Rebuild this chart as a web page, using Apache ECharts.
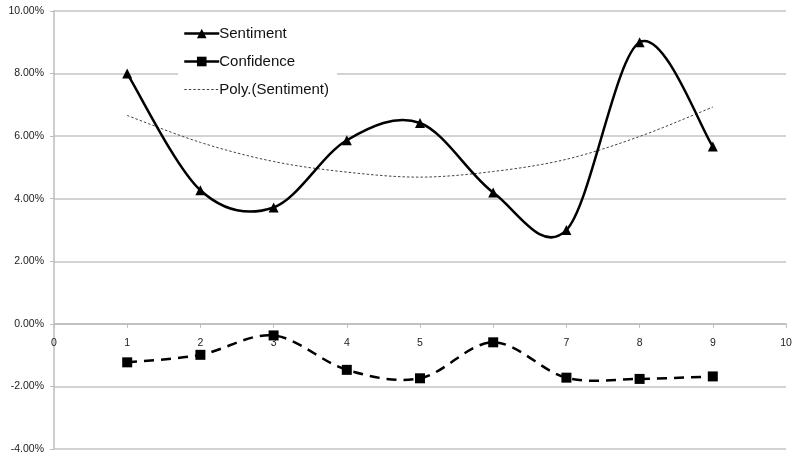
<!DOCTYPE html>
<html>
<head>
<meta charset="utf-8">
<script src="https://cdn.jsdelivr.net/npm/echarts@6/dist/echarts.min.js"></script>
<style>
  html, body { margin: 0; padding: 0; background: #fff; }
  #chart { width: 792px; height: 459px; }
</style>
</head>
<body>
<div id="chart"></div>
<script>
// Period index on the horizontal axis
const periods = [1, 2, 3, 4, 5, 6, 7, 8, 9];
// Series values, in percent
const sentiment = [8.0, 4.27, 3.72, 5.87, 6.42, 4.2, 3.0, 9.0, 5.67];
const confidence = [-1.23, -0.99, -0.37, -1.47, -1.74, -0.59, -1.72, -1.76, -1.68];
// Second-order polynomial trend of Sentiment, sampled at each period
const sentimentTrend = [6.66, 5.8, 5.19, 4.85, 4.69, 4.87, 5.26, 5.99, 6.93];

const seriesNames = ['Sentiment', 'Confidence', 'Poly.(Sentiment)'];

// Value axis range (percent)
const yMin = -4, yMax = 10, yStep = 2;

const pair = (vals) => periods.map((p, i) => [p, vals[i]]);

const chart = echarts.init(document.getElementById('chart'), null, { renderer: 'canvas' });

const gridBox = { left: 54, right: 6, top: 11, bottom: 10 };
const gridHeight = 459 - gridBox.top - gridBox.bottom;
// Shift the horizontal axis up so it sits on the 0% line
const zeroOffset = -gridHeight * (0 - yMin) / (yMax - yMin);

const labelFont = { fontFamily: 'Liberation Sans, Arial, sans-serif', fontSize: 10.5, color: '#222' };

// Smooth spline through the data points (Catmull-Rom style Bezier segments),
// positioned with the chart's own coordinate conversion.
function splineRenderer(vals, style) {
  return function (params, api) {
    const pts = periods.map((p, i) => api.coord([p, vals[i]]));
    const n = pts.length;
    let d = 'M' + pts[0][0] + ' ' + pts[0][1];
    for (let i = 0; i < n - 1; i++) {
      const p0 = pts[Math.max(i - 1, 0)];
      const p1 = pts[i];
      const p2 = pts[i + 1];
      const p3 = pts[Math.min(i + 2, n - 1)];
      const c1x = p1[0] + (p2[0] - p0[0]) / 6;
      const c1y = p1[1] + (p2[1] - p0[1]) / 6;
      const c2x = p2[0] - (p3[0] - p1[0]) / 6;
      const c2y = p2[1] - (p3[1] - p1[1]) / 6;
      d += ' C' + c1x + ' ' + c1y + ' ' + c2x + ' ' + c2y + ' ' + p2[0] + ' ' + p2[1];
    }
    return {
      type: 'path',
      shape: { pathData: d },
      style: Object.assign({ fill: null }, style)
    };
  };
}

function curveSeries(vals, style, z) {
  return {
    type: 'custom',
    coordinateSystem: 'cartesian2d',
    data: [[periods[0], vals[0]]],
    renderItem: splineRenderer(vals, style),
    silent: true,
    z: z
  };
}

chart.setOption({
  animation: false,
  backgroundColor: '#ffffff',
  grid: Object.assign({ containLabel: false, outerBoundsMode: 'none' }, gridBox),
  legend: {
    orient: 'vertical',
    left: 178,
    top: 22,
    padding: [4, 8, 6, 5],
    backgroundColor: '#ffffff',
    itemWidth: 35,
    itemHeight: 12,
    itemGap: 13,
    data: [
      { name: seriesNames[0], lineStyle: { opacity: 1, width: 2.5 } },
      { name: seriesNames[1], lineStyle: { opacity: 1, width: 2.5, type: 'solid' } },
      { name: seriesNames[2], itemStyle: { opacity: 0 }, lineStyle: { opacity: 1, width: 1 } }
    ],
    textStyle: { fontFamily: 'Liberation Sans, Arial, sans-serif', fontSize: 15, color: '#111', padding: [0, 0, 0, -5] }
  },
  xAxis: {
    type: 'value',
    min: 0,
    max: 10,
    interval: 1,
    offset: zeroOffset,
    axisLine: { onZero: false, lineStyle: { color: '#bdbdbd', width: 1.5 } },
    axisTick: { show: true, length: 4, lineStyle: { color: '#bdbdbd' } },
    axisLabel: Object.assign({ margin: 14, showMaxLabel: true, showMinLabel: true }, labelFont),
    splitLine: { show: false }
  },
  yAxis: {
    type: 'value',
    min: yMin,
    max: yMax,
    interval: yStep,
    axisLine: { show: true, lineStyle: { color: '#bdbdbd', width: 1.5 } },
    axisTick: { show: true, length: 4, lineStyle: { color: '#bdbdbd' } },
    axisLabel: Object.assign({ margin: 10, formatter: (v) => v.toFixed(2) + '%' }, labelFont),
    splitLine: { show: true, lineStyle: { color: '#c4c4c4', width: 1.5 } }
  },
  series: [
    {
      name: seriesNames[0],
      type: 'line',
      data: pair(sentiment),
      symbol: 'triangle',
      symbolSize: 10,
      itemStyle: { color: '#000' },
      lineStyle: { color: '#000', width: 2.5, opacity: 0 },
      z: 5
    },
    {
      name: seriesNames[1],
      type: 'line',
      data: pair(confidence),
      symbol: 'rect',
      symbolSize: 10,
      itemStyle: { color: '#000' },
      lineStyle: { color: '#000', width: 2.5, opacity: 0 },
      z: 5
    },
    {
      name: seriesNames[2],
      type: 'line',
      data: pair(sentimentTrend),
      symbol: 'none',
      itemStyle: { color: '#444' },
      lineStyle: { color: '#444', width: 1, type: [2.5, 2], opacity: 0 },
      z: 3
    },
    curveSeries(sentiment, { stroke: '#000', lineWidth: 2.5 }, 4),
    curveSeries(confidence, { stroke: '#000', lineWidth: 2.5, lineDash: [10, 7] }, 4),
    curveSeries(sentimentTrend, { stroke: '#444', lineWidth: 1, lineDash: [2.5, 2] }, 3)
  ]
});
</script>
</body>
</html>
